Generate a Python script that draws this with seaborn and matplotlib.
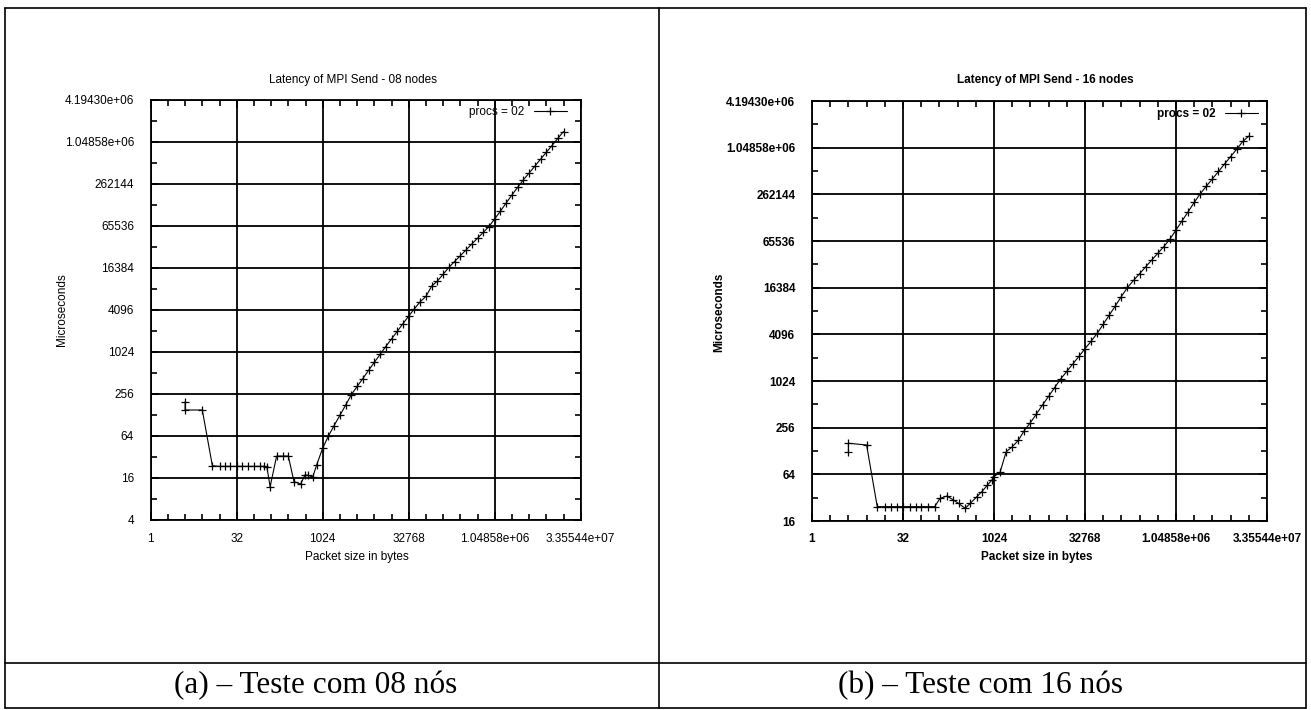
import numpy as np
import pandas as pd
import matplotlib
matplotlib.use("Agg")
import matplotlib.pyplot as plt
from matplotlib.lines import Line2D
from matplotlib.ticker import FixedLocator, NullFormatter
import seaborn as sns

sns.set_theme(style="white")
plt.rcParams["font.family"] = ["Liberation Sans", "DejaVu Sans"]
plt.rcParams["text.color"] = "black"
plt.rcParams["axes.labelcolor"] = "black"
plt.rcParams["xtick.color"] = "black"
plt.rcParams["ytick.color"] = "black"

# ---------------- data ----------------
titles = ["Latency of MPI Send - 08 nodes", "Latency of MPI Send - 16 nodes"]
captions = ["(a) \u2013 Teste com 08 n\u00f3s", "(b) \u2013 Teste com 16 n\u00f3s"]
legend_label = "procs = 02"
xlabel = "Packet size in bytes"
ylabel = "Microseconds"

size_small_08 = [4, 4, 8, 12, 16, 20, 24, 32, 40, 51, 64, 81, 97, 108, 123, 160, 209, 256,
                 322, 421, 502, 573, 685, 803]
lat_small_08 = [198, 151, 151, 24, 23.5, 23.5, 23.5, 23.5, 23.5, 23.5, 23.5, 23.5, 23.5, 23,
                12, 33, 33, 33, 14.2, 13.1, 17.7, 17.5, 16.5, 24.6]

size_small_16 = [4, 4, 8, 12, 16, 20, 25, 32, 41, 52, 64, 83, 107, 131, 170, 218, 265, 342,
                 413, 533, 645, 790, 944]
lat_small_16 = [125, 161, 153, 24.5, 24.5, 24.5, 24.5, 24.5, 24.5, 24.5, 24.5, 24.5, 24.5,
                31.4, 33.6, 29.9, 27, 23.3, 27, 32.9, 38.3, 46, 54]

size_large = [1024, 1290, 1625, 2048, 2580, 3251, 4096, 5161, 6502, 8192, 10321, 13004,
              16384, 20643, 26008, 32768, 41285, 52016, 65536, 82570, 104032, 131072,
              165140, 208064, 262144, 330281, 416128, 524288, 660561, 832255, 1048576,
              1321123, 1664511, 2097152, 2642245, 3329021, 4194304, 5284491, 6658043,
              8388608, 10568983, 13316085, 16777216]
lat_large_08 = [43, 64, 90.5, 127, 177, 251, 328, 426, 559, 727, 945, 1227, 1573, 2021, 2610,
                3350, 4270, 5370, 6400, 9000, 10650, 13300, 16670, 20300, 24500, 29700,
                36100, 43800, 52900, 64400, 82900, 107000, 140000, 182000, 235000, 301000,
                376000, 472000, 594000, 746000, 932000, 1180000, 1480000]
lat_large_16 = [60, 68, 125, 145, 175, 235, 297, 385, 503, 649, 843, 1090, 1360, 1700, 2130,
                2670, 3330, 4200, 5520, 7240, 9540, 12600, 16500, 20300, 24800, 30400, 37200,
                45400, 55500, 69300, 90800, 119000, 156000, 206000, 267000, 334000, 415000,
                517000, 645000, 805000, 1000000, 1260000, 1480000]

x_ticks = [1, 32, 1024, 32768, 1048576, 33554432]
x_tick_labels = ["1", "32", "1024", "32768", "1.04858e+06", "3.35544e+07"]
y_ticks_08 = [4, 16, 64, 256, 1024, 4096, 16384, 65536, 262144, 1048576, 4194304]
y_ticks_16 = [16, 64, 256, 1024, 4096, 16384, 65536, 262144, 1048576, 4194304]
y_tick_labels_08 = ["4", "16", "64", "256", "1024", "4096", "16384", "65536", "262144",
                    "1.04858e+06", "4.19430e+06"]
y_tick_labels_16 = y_tick_labels_08[1:]

# ---------------- figure ----------------
W, H = 1311, 710
fig = plt.figure(figsize=(W / 100, H / 100), dpi=100)
fig.patch.set_facecolor("white")


def fx(px):
    return px / W


def fy(py):
    return 1 - py / H


# table lines
lw_tab = 1.2
for (x0, y0, x1, y1) in [(5, 8, 1306, 8), (5, 708, 1306, 708), (5, 8, 5, 708),
                         (1306, 8, 1306, 708), (658.5, 8, 658.5, 708), (5, 663, 1306, 663)]:
    fig.add_artist(Line2D([fx(x0), fx(x1)], [fy(y0), fy(y1)], color="black", lw=lw_tab))

panels = [
    dict(box=(150.7, 100, 580.7, 520), sizes=size_small_08 + size_large,
         lats=lat_small_08 + lat_large_08, yticks=y_ticks_08, ylabels=y_tick_labels_08,
         title=titles[0], weight="normal", title_x=353, ylab_x=62, ylab_y=310,
         xlab_x=357, leg=(0.968, 0.971), cap_x=316, cap=captions[0]),
    dict(box=(812, 101, 1267, 521), sizes=size_small_16 + size_large,
         lats=lat_small_16 + lat_large_16, yticks=y_ticks_16, ylabels=y_tick_labels_16,
         title=titles[1], weight="bold", title_x=1045, ylab_x=719, ylab_y=312,
         xlab_x=1037, leg=(0.98, 0.969), cap_x=980, cap=captions[1]),
]

for p in panels:
    l, t, r, b = p["box"]
    ax = fig.add_axes([fx(l), fy(b), (r - l) / W, (b - t) / H])
    df = pd.DataFrame({"size": p["sizes"], "latency": p["lats"]})
    sns.lineplot(data=df, x="size", y="latency", estimator=None, sort=False, ax=ax,
                 color="black", linewidth=0.8, marker="+", markersize=6,
                 markeredgewidth=0.9, markeredgecolor="black", label=legend_label)
    ax.set_xscale("log", base=2)
    ax.set_yscale("log", base=2)
    ax.set_xlim(1, 2 ** 25)
    ax.set_ylim(p["yticks"][0], p["yticks"][-1])
    ax.xaxis.set_major_locator(FixedLocator(x_ticks))
    ax.set_xticklabels(x_tick_labels, fontsize=8.5, fontweight=p["weight"])
    ax.yaxis.set_major_locator(FixedLocator(p["yticks"]))
    ax.set_yticklabels(p["ylabels"], fontsize=8.5, fontweight=p["weight"])
    xminor = [2.0 ** k for k in range(1, 25) if k % 5 != 0]
    ax.xaxis.set_minor_locator(FixedLocator(xminor))
    ymin = [t_ * 2 for t_ in p["yticks"][:-1]]
    ax.yaxis.set_minor_locator(FixedLocator(ymin))
    ax.xaxis.set_minor_formatter(NullFormatter())
    ax.yaxis.set_minor_formatter(NullFormatter())
    ax.tick_params(which="major", direction="in", length=6, width=1.2, color="black",
                   top=True, right=True, bottom=True, left=True, pad=9, labelcolor="black")
    ax.tick_params(which="minor", direction="in", length=4, width=1.2, color="black",
                   top=True, right=True, bottom=True, left=True)
    ax.tick_params(axis="y", which="major", pad=12)
    ax.grid(True, which="major", color="black", linewidth=1.3)
    for s in ax.spines.values():
        s.set_color("black")
        s.set_linewidth(1.3)
        s.set_visible(True)
    ax.set_xlabel("")
    ax.set_ylabel("")
    leg = ax.legend(loc="center right", bbox_to_anchor=p["leg"], frameon=False,
                    markerfirst=False, handlelength=2.8, handletextpad=0.8,
                    borderpad=0, borderaxespad=0, numpoints=1,
                    prop=dict(size=8.5, weight=p["weight"]))
    for txt in leg.get_texts():
        txt.set_color("black")
    fig.text(fx(p["title_x"]), fy(80), p["title"], ha="center", va="center",
             fontsize=8.5, fontweight=p["weight"], color="black")
    fig.text(fx(p["xlab_x"]), fy(557), xlabel, ha="center", va="center",
             fontsize=8.5, fontweight=p["weight"], color="black")
    fig.text(fx(p["ylab_x"]), fy(p["ylab_y"]), ylabel, ha="center", va="center",
             rotation=90, fontsize=8.5, fontweight=p["weight"], color="black")
    fig.text(fx(p["cap_x"]), fy(686), p["cap"], ha="center", va="center",
             fontsize=22.5, family=["Liberation Serif", "DejaVu Serif"], color="black")

fig.savefig("out.png", dpi=100, facecolor="white")
